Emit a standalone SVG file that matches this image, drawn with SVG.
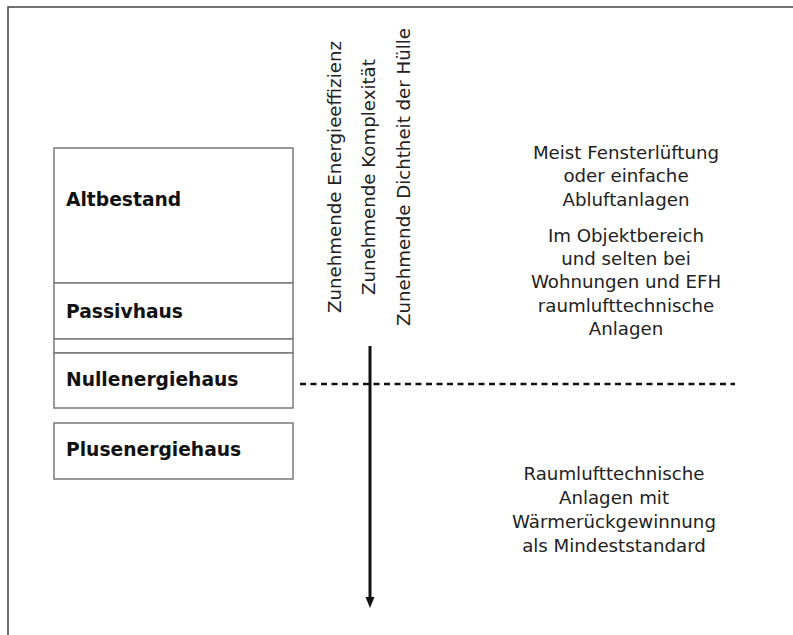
<svg xmlns="http://www.w3.org/2000/svg" width="793" height="635" viewBox="0 0 793 635">
<defs>
<style>
.box{fill:#fff;stroke:#7a7a7a;stroke-width:1.5}
.lbl{font-family:"DejaVu Sans","Verdana",sans-serif;font-size:18.7px;font-weight:bold;fill:#111}
.txt{font-family:"DejaVu Sans","Verdana",sans-serif;font-size:18.2px;fill:#222;text-anchor:middle}
.frame{fill:none;stroke:#444;stroke-width:1.5}
</style>
</defs>
<rect width="793" height="635" fill="#fff"/>
<path class="frame" d="M8,635 L8,7 L793,7"/>
<g id="altbestand">
<rect class="box" x="54" y="148" width="239" height="135"/>
<text class="lbl" x="66" y="206">Altbestand</text>
</g>
<g id="passivhaus">
<rect class="box" x="54" y="283" width="239" height="56"/>
<text class="lbl" x="66" y="318">Passivhaus</text>
</g>
<g id="zwischen">
<rect class="box" x="54" y="339" width="239" height="14"/>
</g>
<g id="nullenergiehaus">
<rect class="box" x="54" y="353" width="239" height="55"/>
<text class="lbl" x="66" y="386">Nullenergiehaus</text>
</g>
<g id="plusenergiehaus">
<rect class="box" x="54" y="423" width="239" height="56"/>
<text class="lbl" x="66" y="456">Plusenergiehaus</text>
</g>
<g id="achsen-texte">
<text class="txt" transform="translate(341,177) rotate(-90)">Zunehmende Energieeffizienz</text>
<text class="txt" transform="translate(375,177) rotate(-90)">Zunehmende Komplexität</text>
<text class="txt" transform="translate(410,177) rotate(-90)">Zunehmende Dichtheit der Hülle</text>
</g>
<g id="oben-text">
<text class="txt" x="626" y="159">Meist Fensterlüftung</text>
<text class="txt" x="626" y="182">oder einfache</text>
<text class="txt" x="626" y="206">Abluftanlagen</text>
<text class="txt" x="626" y="242">Im Objektbereich</text>
<text class="txt" x="626" y="265">und selten bei</text>
<text class="txt" x="626" y="288">Wohnungen und EFH</text>
<text class="txt" x="626" y="312">raumlufttechnische</text>
<text class="txt" x="626" y="335">Anlagen</text>
</g>
<g id="unten-text">
<text class="txt" x="614" y="480">Raumlufttechnische</text>
<text class="txt" x="614" y="504">Anlagen mit</text>
<text class="txt" x="614" y="528">Wärmerückgewinnung</text>
<text class="txt" x="614" y="552">als Mindeststandard</text>
</g>
<g id="connectors">
<line x1="300" y1="384" x2="735" y2="384" stroke="#111" stroke-width="2.5" stroke-dasharray="6,4.5"/>
<line x1="370" y1="346" x2="370" y2="598" stroke="#111" stroke-width="3"/>
<path d="M365.5,597 L374.5,597 L370,608 Z" fill="#111"/>
</g>
</svg>
